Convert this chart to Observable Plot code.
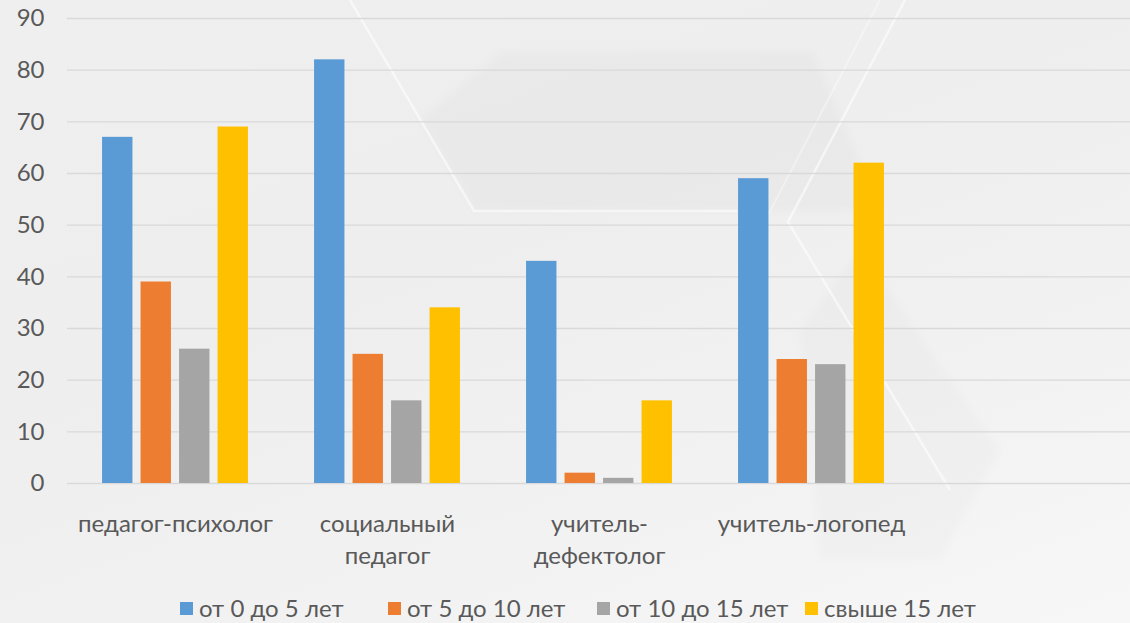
<!DOCTYPE html>
<html>
<head>
<meta charset="utf-8">
<script src="https://cdn.jsdelivr.net/npm/d3@7"></script>
<script src="https://cdn.jsdelivr.net/npm/@observablehq/plot@0.6"></script>
<style>
  html, body { margin: 0; padding: 0; }
  body {
    width: 1130px; height: 623px; overflow: hidden; position: relative;
    font-family: Lato, "Open Sans", sans-serif;
    background: linear-gradient(160deg, #efefef 0%, #eeeeee 40%, #f1f1f1 65%, #f7f7f7 100%);
  }
  #bg { position: absolute; left: 0; top: 0; }
  #chart { position: absolute; left: 0; top: 0; }
  #legend {
    position: absolute; left: 180px; top: 594px; line-height: 28px;
    display: flex;
    font-family: Lato, "Open Sans", sans-serif; font-size: 24px; color: #595959;
  }
  .item { display: flex; align-items: center; gap: 6px; white-space: nowrap; }
  .sw { width: 13px; height: 13px; display: inline-block; }
</style>
</head>
<body>
<svg id="bg" width="1130" height="623">
  <defs><filter id="soft"><feGaussianBlur stdDeviation="4"/></filter></defs>
  <g filter="url(#soft)">
    <polygon points="503,52 813,52 880,211 474,211 420,120" fill="#000" fill-opacity="0.018"/>
    <polygon points="860,250 1000,450 940,560 820,560 800,330" fill="#000" fill-opacity="0.014"/>
  </g>
  <polyline points="350,0 474,211 737,211" fill="none" stroke="#fff" stroke-width="2.5" stroke-opacity="0.55"/>
  <polyline points="905,0 788,222 950,490" fill="none" stroke="#fff" stroke-width="2.5" stroke-opacity="0.55"/>
  <polyline points="880,0 768,215" fill="none" stroke="#fff" stroke-width="2" stroke-opacity="0.35"/>
</svg>
<div id="chart"></div>
<div id="legend"></div>
<script>
const categories = ["педагог-психолог", "социальный\nпедагог", "учитель-\nдефектолог", "учитель-логопед"];
const seriesNames = ["от 0 до 5 лет", "от 5 до 10 лет", "от 10 до 15 лет", "свыше 15 лет"];
const from0to5 = [67, 82, 43, 59];
const from5to10 = [39, 25, 2, 24];
const from10to15 = [26, 16, 1, 23];
const over15 = [69, 34, 16, 62];
const yTicks = [0, 10, 20, 30, 40, 50, 60, 70, 80, 90];
const colors = ["#5B9BD5", "#ED7D31", "#A5A5A5", "#FFC000"];

const seriesValues = [from0to5, from5to10, from10to15, over15];
const W = 1130, H = 580, ML = 67, MR = 0;
const bw = (W - ML - MR) / 5;
const barW = 31, step = 38.5;

const barMarks = seriesValues.map((vals, i) => {
  const data = categories.map((c, j) => ({cat: c, value: vals[j]}));
  const left = bw / 2 + (i - 1.5) * step - barW / 2;
  return Plot.barY(data, {
    x: "cat", y: "value", fill: colors[i],
    insetLeft: left, insetRight: bw - left - barW
  });
});

const chart = Plot.plot({
  width: W, height: H,
  marginLeft: ML, marginRight: MR, marginTop: 18, marginBottom: 97,
  style: {background: "transparent", fontFamily: "Lato, 'Open Sans', sans-serif", fontSize: "24px", color: "#595959"},
  x: {domain: [...categories, " "], padding: 0, label: null},
  y: {domain: [0, 90], label: null},
  marks: [
    Plot.gridY(yTicks, {stroke: "#d9d9d9", strokeOpacity: 1, strokeWidth: 1.4}),
    ...barMarks,
    Plot.axisY(yTicks, {tickSize: 0, tickPadding: 23, fontSize: 24, fill: "#595959", label: null}),
    Plot.axisX({tickSize: 0, tickPadding: 26, fontSize: 24, fill: "#595959", lineHeight: 1.33, label: null, textOverflow: null})
  ]
});
document.getElementById("chart").appendChild(chart);

const legend = document.getElementById("legend");
const itemWidths = [208, 209, 208, null];
seriesNames.forEach((name, i) => {
  const it = document.createElement("div");
  it.className = "item";
  if (itemWidths[i]) it.style.width = itemWidths[i] + "px";
  it.innerHTML = `<span class="sw" style="background:${colors[i]}"></span><span>${name}</span>`;
  legend.appendChild(it);
});
</script>
</body>
</html>
